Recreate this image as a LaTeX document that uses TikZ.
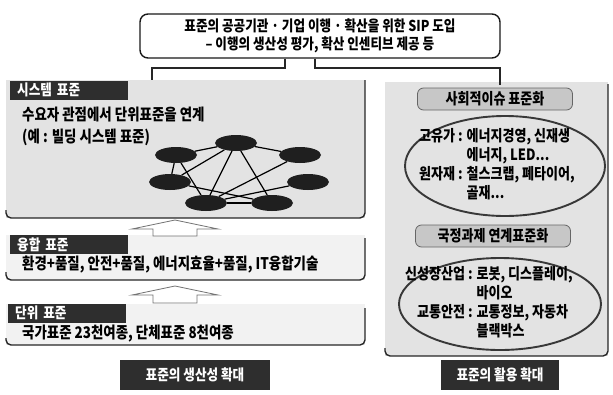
\documentclass[tikz,border=0pt]{standalone}
\usepackage{fontspec}
\setmainfont[FakeStretch=0.84]{Noto Sans CJK KR}
\usetikzlibrary{shapes.geometric}
\pgfdeclarelayer{back}
\pgfdeclarelayer{edges}
\pgfsetlayers{back,edges,main}
\tikzset{
  halftone/.style={fill=black!11},
  halftonelight/.style={fill=black!5},
  paneledge/.style={draw=black!85, line width=1.4pt, rounded corners=5pt},
  topbox/.style={draw=black!90, line width=1.4pt, rounded corners=8pt, fill=white,
    minimum width=360pt, minimum height=44pt, align=center, inner sep=0pt,
    font=\bfseries\fontsize{15}{18}\selectfont},
  conn/.style={draw=black!85, line width=1.1pt},
  darklabel/.style={fill=black!82, text=white, anchor=west, inner xsep=7pt, inner ysep=0pt,
    minimum height=19pt, text width=104pt, align=left,
    font=\bfseries\fontsize{15}{17}\selectfont},
  ltext/.style={anchor=west, inner sep=0pt, font=\bfseries\fontsize{16}{18}\selectfont},
  netnode/.style={ellipse, fill=black!88, minimum width=42pt, minimum height=16pt, inner sep=0pt},
  netedge/.style={draw=black, line width=1.2pt},
  blockarrow/.style={draw=black!55, fill=white, line width=0.8pt},
  graybox/.style={draw=black!60, fill=black!22, rounded corners=6pt, line width=0.8pt,
    inner sep=0pt, font=\bfseries\fontsize{15.5}{17}\selectfont},
  bigell/.style={draw=black!78, line width=1.9pt},
  rtext/.style={inner sep=0pt, font=\bfseries\fontsize{15.5}{19}\selectfont},
  biglabel/.style={fill=black!82, text=white, inner sep=0pt, minimum height=30pt,
    font=\bfseries\fontsize{15}{17}\selectfont},
}
\begin{document}
\begin{tikzpicture}[x=1pt,y=-1pt]
\useasboundingbox (0,0) rectangle (613,394);
\begin{pgfonlayer}{back}
\fill[white] (0,0) rectangle (613,394);
\fill[halftone] (6,80) rectangle (365,218);
\fill[halftonelight] (6,235) rectangle (365,280);
\fill[halftonelight] (6,304) rectangle (365,345);
\fill[halftone] (385,82) rectangle (608,356);
\end{pgfonlayer}

% panel edges
\draw[paneledge] (6,210) -- (6,218) -- (365,218) -- (365,80);
\draw[paneledge] (6,272) -- (6,280) -- (365,280) -- (365,238);
\draw[paneledge] (6,338) -- (6,345) -- (365,345) -- (365,308);
\draw[paneledge] (385,348) -- (385,356) -- (608,356) -- (608,84);

% top box
\node[topbox] (top) at (320,36) {표준의 공공기관 · 기업 이행 · 확산을 위한 SIP 도입\\– 이행의 생산성 평가, 확산 인센티브 제공 등};
\coordinate (lc) at (152,80);
\coordinate (rc) at (500,85);
\draw[conn] (285,0 |- top.south) -- (285,68) -- (152,68) -- (lc);
\draw[conn] (315,0 |- top.south) -- (315,68) -- (500,68) -- (rc);

% left panels
\node[darklabel] (l1) at (10,90) {시스템 표준};
\node[ltext] (t1) at (22,115) {수요자 관점에서 단위표준을 연계};
\node[ltext] (t2) at (22,137) {(예 : 빌딩 시스템 표준)};

\node[netnode] (n1) at (236,143) {};
\node[netnode] (n2) at (176,155) {};
\node[netnode] (n3) at (300,155) {};
\node[netnode] (n4) at (170,182) {};
\node[netnode] (n5) at (308,182) {};
\node[netnode] (n6) at (206,203) {};
\node[netnode] (n7) at (272,203) {};
\begin{pgfonlayer}{edges}
\draw[netedge] (n1) -- (n2);
\draw[netedge] (n1) -- (n3);
\draw[netedge] (n1) -- (n4);
\draw[netedge] (n1) -- (n6);
\draw[netedge] (n1) -- (n7);
\draw[netedge] (n2) -- (n4);
\draw[netedge] (n2) -- (n6);
\draw[netedge] (n3) -- (n6);
\draw[netedge] (n4) -- (n7);
\draw[netedge] (n5) -- (n6);
\draw[netedge] (n6) -- (n7);
\end{pgfonlayer}

\draw[blockarrow] (132,229) -- (175,220) -- (218,229) -- (197,229) -- (197,236) -- (153,236) -- (153,229) -- cycle;

\node[darklabel] (l2) at (10,244.5) {융합 표준};
\node[ltext] (t3) at (22,265) {환경+품질, 안전+품질, 에너지효율+품질, IT융합기술};

\draw[blockarrow] (132,295) -- (175,286) -- (218,295) -- (197,295) -- (197,303) -- (153,303) -- (153,295) -- cycle;

\node[darklabel] (l3) at (8,313) {단위 표준};
\node[ltext] (t4) at (22,334) {국가표준 23천여종, 단체표준 8천여종};

\node[biglabel, minimum width=150pt] (bl) at (195,375) {표준의 생산성 확대};

% right panel
\node[graybox, minimum width=155pt, minimum height=22pt] (sh) at (495,99) {사회적이슈 표준화};
\draw[bigell] (505,166) ellipse [x radius=100pt, y radius=50pt];
\node[rtext, anchor=west] (e1t) at (419,166) {\begin{tabular}{@{}r@{\hspace{4pt}}l@{}}고유가 : & 에너지경영, 신재생\\ & 에너지, LED...\\ 원자재 : & 철스크랩, 폐타이어,\\ & 골재...\end{tabular}};

\node[graybox, minimum width=155pt, minimum height=22pt] (gj) at (493,236) {국정과제 연계표준화};
\draw[bigell] (500,304) ellipse [x radius=101pt, y radius=46pt];
\node[rtext, anchor=west] (e2t) at (405,304) {\begin{tabular}{@{}r@{\hspace{4pt}}l@{}}신성장산업 : & 로봇, 디스플레이,\\ & 바이오\\ 교통안전 : & 교통정보, 자동차\\ & 블랙박스\end{tabular}};

\node[biglabel, minimum width=118pt] (br) at (500,375) {표준의 활용 확대};
\end{tikzpicture}
\end{document}
